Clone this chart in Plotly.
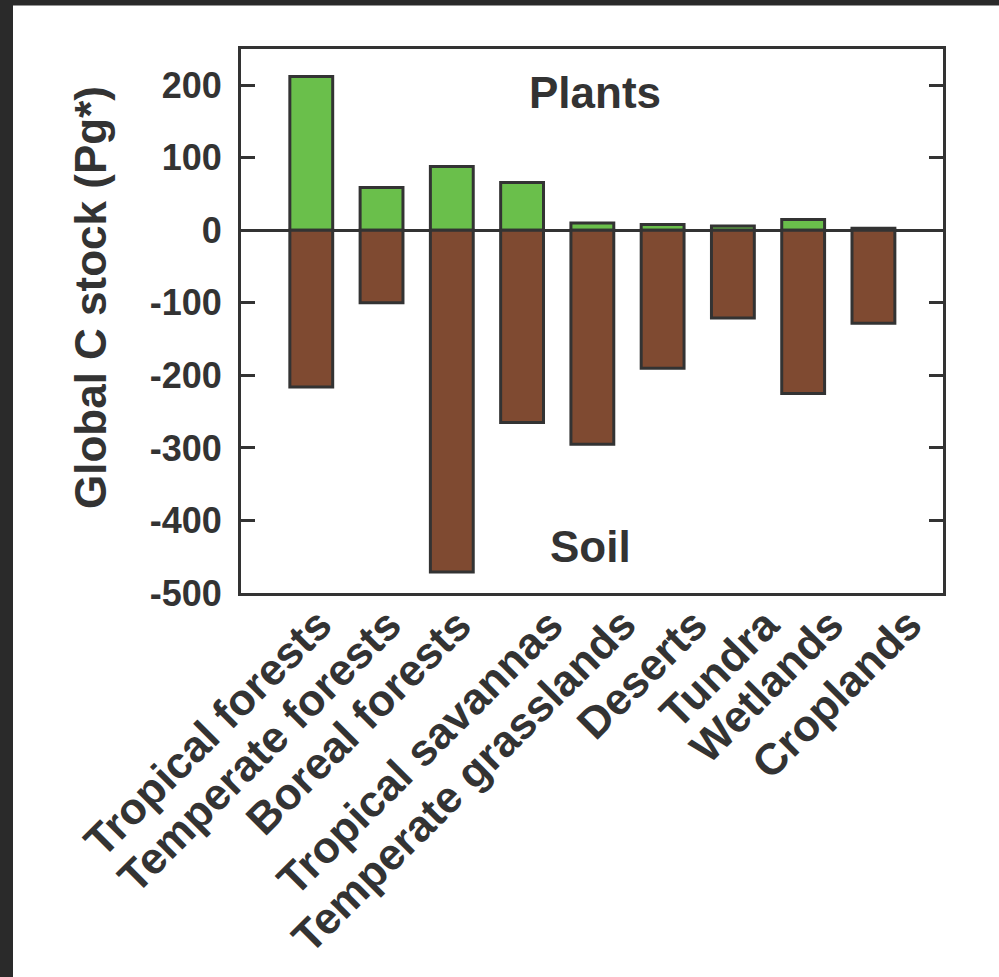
import plotly.graph_objects as go

categories = ["Tropical forests", "Temperate forests", "Boreal forests", "Tropical savannas",
              "Temperate grasslands", "Deserts", "Tundra", "Wetlands", "Croplands"]
plants = [212, 59, 88, 66, 10, 8, 6, 15, 3]
soil = [-216, -100, -471, -265, -295, -190, -121, -225, -128]
y_ticks = [200, 100, 0, -100, -200, -300, -400, -500]

# pixel offsets of the rotated category labels (layout only)
label_shift = [31, 30, 30, 52, 54, 55, 56, 51, 59]

W, H = 999, 977
L, R, T, B = 241, 943, 49, 593
pw, ph = R - L, B - T

def px(x):
    return (x - L) / pw

def py(y):
    return (B - y) / ph

DARK = "#333333"
FONT = "Liberation Sans, Arial, sans-serif"

fig = go.Figure()
fig.add_trace(go.Bar(x=list(range(len(categories))), y=plants, width=0.61,
                     marker=dict(color="#6abf4b", line=dict(color=DARK, width=3)),
                     name="Plants", showlegend=False))
fig.add_trace(go.Bar(x=list(range(len(categories))), y=soil, width=0.61,
                     marker=dict(color="#7f4a31", line=dict(color=DARK, width=3)),
                     name="Soil", showlegend=False))

annotations = [
    dict(text="<b>Global C stock (Pg*)</b>", textangle=-90, xref="paper", yref="paper",
         x=px(90), y=py(298), xanchor="center", yanchor="middle", showarrow=False,
         font=dict(family=FONT, size=44, color=DARK)),
    dict(text="<b>Plants</b>", xref="paper", yref="paper", x=px(595), y=py(92),
         xanchor="center", yanchor="middle", showarrow=False,
         font=dict(family=FONT, size=44, color=DARK)),
    dict(text="<b>Soil</b>", xref="paper", yref="paper", x=px(590), y=py(546),
         xanchor="center", yanchor="middle", showarrow=False,
         font=dict(family=FONT, size=44, color=DARK)),
]
for i, cat in enumerate(categories):
    annotations.append(dict(text="<b>%s</b>" % cat, textangle=-45, xref="x", yref="paper",
                            x=i, y=py(598), xshift=label_shift[i], xanchor="right", yanchor="top",
                            showarrow=False, borderpad=0,
                            font=dict(family=FONT, size=44, color=DARK)))

fig.update_layout(
    width=W, height=H,
    margin=dict(l=L, r=W - R, t=T, b=H - B, pad=0),
    paper_bgcolor="white", plot_bgcolor="white",
    barmode="relative",
    font=dict(family=FONT, color=DARK),
    xaxis=dict(range=[-1, 8.99], tickmode="array", tickvals=list(range(len(categories))),
               ticktext=categories, showticklabels=False, showline=True, linecolor=DARK, linewidth=3,
               mirror=True, ticks="", showgrid=False, zeroline=False),
    yaxis=dict(range=[-500, 250], tickmode="array", tickvals=y_ticks,
               ticktext=[str(v) for v in y_ticks], showline=True, linecolor=DARK, linewidth=3,
               mirror="ticks", ticks="inside", ticklen=14, tickwidth=3, tickcolor=DARK,
               showgrid=False, zeroline=True, zerolinecolor=DARK, zerolinewidth=3,
               ticklabelstandoff=9,
               tickfont=dict(family=FONT, size=36, color=DARK, weight="bold")),
    annotations=annotations,
    shapes=[
        dict(type="rect", xref="paper", yref="paper", x0=px(0), x1=px(13), y0=py(0), y1=py(H),
             fillcolor="#2a2a2a", line=dict(width=0), layer="above"),
        dict(type="rect", xref="paper", yref="paper", x0=px(0), x1=px(W), y0=py(0), y1=py(5.5),
             fillcolor="#2a2a2a", line=dict(width=0), layer="above"),
    ],
)

fig.write_html("out.html", config={"displayModeBar": False},
               post_script="document.body.style.margin='0';document.body.style.overflow='hidden';")
